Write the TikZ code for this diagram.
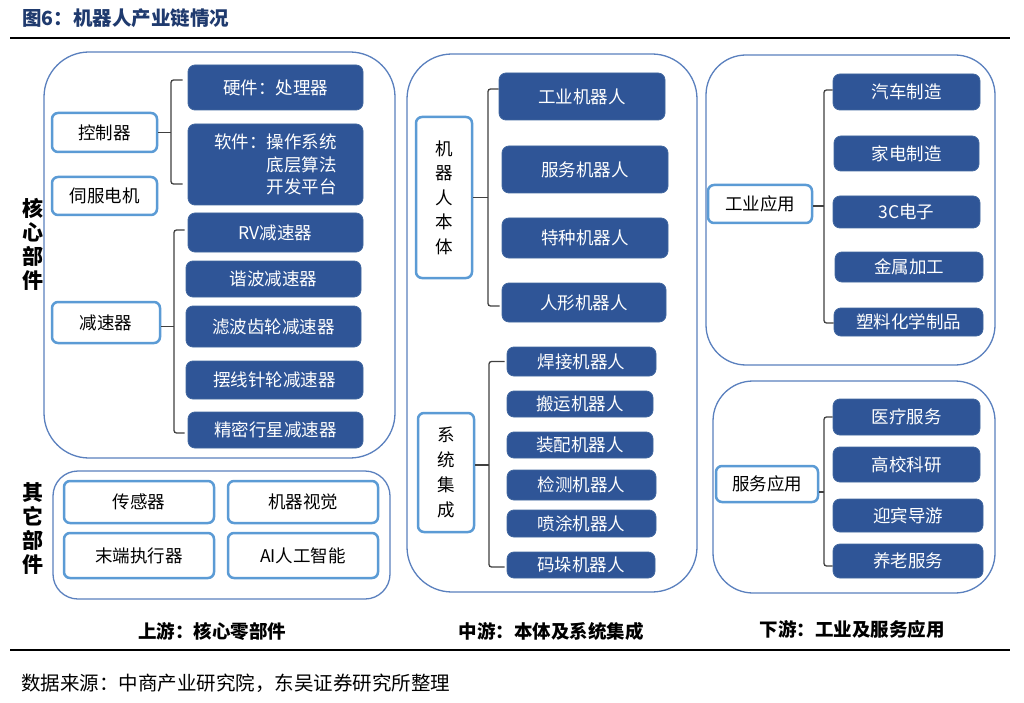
\documentclass[tikz,border=0pt]{standalone}
\usepackage{fontspec}
\setmainfont{Noto Sans CJK SC}
\usetikzlibrary{calc}
\definecolor{bfill}{HTML}{2F5597}
\definecolor{bborder}{HTML}{41679F}
\definecolor{wborder}{HTML}{5B9BD5}
\definecolor{cborder}{HTML}{5A80BE}
\definecolor{brkcol}{HTML}{404040}
\definecolor{titlecol}{HTML}{1F3A6E}
\tikzset{
  container/.style={draw=cborder, line width=1.3pt, rounded corners=#1, inner sep=0pt},
  container/.default=40pt,
  wbox/.style={draw=wborder, line width=2.5pt, fill=white, rounded corners=6pt, inner sep=0pt, text=black, font=\fontsize{17.5}{20}\selectfont},
  bbox/.style={draw=bborder, line width=0.8pt, fill=bfill, rounded corners=7pt, inner sep=0pt, text=white, font=\fontsize{17.5}{20}\selectfont},
  sz/.style 2 args={minimum width=#1pt, minimum height=#2pt},
  brk/.style={draw=brkcol, line width=1.3pt, rounded corners=2.5pt},
  sidelabel/.style={font=\fontsize{21}{24}\selectfont\bfseries, align=center, inner sep=0pt},
  footlabel/.style={font=\fontsize{18.5}{20}\selectfont\bfseries, inner sep=0pt},
}
\begin{document}
\begin{tikzpicture}[x=1pt,y=-1pt]
\useasboundingbox (0,0) rectangle (1024,703);
\fill[white] (0,0) rectangle (1024,703);

% title and rules
\node[anchor=west, inner sep=0pt, text=titlecol, font=\fontsize{19.5}{20}\selectfont\bfseries] (title) at (22,18) {图6：机器人产业链情况};
\coordinate (rl1) at (10,38); \coordinate (rr1) at (1010,38);
\draw[line width=2pt] (rl1) -- (rr1);
\coordinate (rl2) at (10,650); \coordinate (rr2) at (1010,650);
\draw[line width=2pt] (rl2) -- (rr2);
\node[anchor=west, inner sep=0pt, font=\fontsize{19.5}{20}\selectfont] (src) at (21,683) {数据来源：中商产业研究院，东吴证券研究所整理};

% containers
\node[container=45pt, sz={351}{406}] (upL) at (219.5,255) {};
\node[container=25pt, sz={337}{128}] (loL) at (221.5,535) {};
\node[container=45pt, sz={290}{538}] (mid) at (552,323) {};
\node[container=40pt, sz={289}{310}] (rTop) at (850.5,210) {};
\node[container=40pt, sz={282}{212}] (rBot) at (854,487) {};

% side labels
\node[sidelabel] (core) at (33,244) {核\\心\\部\\件};
\node[sidelabel] (other) at (33,529) {其\\它\\部\\件};

% upstream white boxes
\node[wbox, sz={105}{39}] (ctrl) at (104.5,132.5) {控制器};
\node[wbox, sz={105}{38}] (servo) at (104.5,196) {伺服电机};
\node[wbox, sz={108}{41}] (red) at (106,322.5) {减速器};
\node[wbox, sz={150}{42}] (sensor) at (139,502) {传感器};
\node[wbox, sz={150}{42}] (vision) at (303,502) {机器视觉};
\node[wbox, sz={150}{45}] (endeff) at (139,555.5) {末端执行器};
\node[wbox, sz={150}{45}] (ai) at (303,555.5) {AI人工智能};

% upstream blue boxes
\node[bbox, sz={175}{45}] (hw) at (275.5,87.5) {硬件：处理器};
\node[bbox, sz={175}{81}, align=left, font=\fontsize{17.5}{22.5}\selectfont] (sw) at (275.5,164.5) {软件：操作系统\\\phantom{软件：}底层算法\\\phantom{软件：}开发平台};
\node[bbox, sz={175}{39}] (rv) at (275.5,232.5) {RV减速器};
\node[bbox, sz={175}{36}] (harm) at (273.5,279) {谐波减速器};
\node[bbox, sz={175}{41}] (filt) at (273.5,326.5) {滤波齿轮减速器};
\node[bbox, sz={177}{38}] (cyc) at (274.5,380) {摆线针轮减速器};
\node[bbox, sz={175}{36}] (plan) at (275.5,430) {精密行星减速器};

% midstream
\node[wbox, sz={56}{161}, align=center, font=\fontsize{17.5}{24.5}\selectfont] (body) at (444,197.5) {机\\器\\人\\本\\体};
\node[wbox, sz={56}{119}, align=center, font=\fontsize{17.5}{25}\selectfont] (sysint) at (446,472.5) {系\\统\\集\\成};
\node[bbox, sz={166}{47}] (ind) at (582,96.5) {工业机器人};
\node[bbox, sz={166}{47}] (svc) at (585,169.5) {服务机器人};
\node[bbox, sz={166}{40}] (spec) at (585,238) {特种机器人};
\node[bbox, sz={164}{39}] (hum) at (584,302.5) {人形机器人};
\node[bbox, sz={149}{29}] (weld) at (581.5,361.5) {焊接机器人};
\node[bbox, sz={146}{26}] (hand) at (580,404) {搬运机器人};
\node[bbox, sz={146}{26}] (asm) at (580,445) {装配机器人};
\node[bbox, sz={149}{30}] (insp) at (581.5,485) {检测机器人};
\node[bbox, sz={149}{27}] (spray) at (581.5,523.5) {喷涂机器人};
\node[bbox, sz={148}{26}] (pall) at (581,565) {码垛机器人};

% downstream
\node[wbox, sz={104}{38}] (indApp) at (760,204) {工业应用};
\node[wbox, sz={102}{36}] (svcApp) at (767,484) {服务应用};
\node[bbox, sz={147}{36}] (car) at (906.5,92) {汽车制造};
\node[bbox, sz={145}{35}] (home) at (906.5,153.5) {家电制造};
\node[bbox, sz={147}{32}] (c3) at (906.5,212) {3C电子};
\node[bbox, sz={148}{30}] (metal) at (909,267) {金属加工};
\node[bbox, sz={149}{28}] (plast) at (908.5,322) {塑料化学制品};
\node[bbox, sz={147}{36}] (med) at (906.5,417) {医疗服务};
\node[bbox, sz={147}{35}] (uni) at (906.5,464.5) {高校科研};
\node[bbox, sz={150}{33}] (guide) at (908,515.5) {迎宾导游};
\node[bbox, sz={150}{34}] (elder) at (908,561) {养老服务};

% brackets
% controller
\coordinate (b1) at (171,0);
\coordinate (t1a) at ([xshift=-5pt,yshift=7.5pt]hw.west);
\coordinate (t1b) at ([xshift=-5pt,yshift=-19.5pt]sw.west);
\draw[brk] (ctrl.east) -- (ctrl.east -| b1);
\draw[brk] (t1a) -- (t1a -| b1) -- (t1b -| b1) -- (t1b);
% reducer
\coordinate (b2) at (174,0);
\coordinate (t2a) at ([xshift=-3pt,yshift=2.5pt]rv.west);
\coordinate (t2b) at ([xshift=-3pt,yshift=-3pt]plan.west);
\coordinate (s2) at ([yshift=-4pt]red.east);
\draw[brk] (s2) -- (s2 -| b2);
\draw[brk] (t2a) -- (t2a -| b2) -- (t2b -| b2) -- (t2b);
% robot body
\coordinate (b3) at (488,0);
\coordinate (t3a) at ([yshift=7.5pt]ind.west);
\coordinate (t3b) at ([xshift=-2pt,yshift=-3.5pt]hum.west);
\draw[brk] (body.east) -- (body.east -| b3);
\draw[brk] (t3a) -- (t3a -| b3) -- (t3b -| b3) -- (t3b);
% system integration
\coordinate (b4) at (489,0);
\coordinate (t4a) at ([xshift=-2pt]weld.west);
\coordinate (t4b) at ([xshift=-2pt,yshift=-2pt]pall.west);
\coordinate (s4) at ([yshift=7.5pt]sysint.east);
\draw[brk] (s4) -- (s4 -| b4);
\draw[brk] (t4a) -- (t4a -| b4) -- (t4b -| b4) -- (t4b);
% industrial application
\coordinate (b5) at (824,0);
\coordinate (t5a) at ([yshift=2pt]car.west);
\coordinate (t5b) at ([yshift=-1pt]plast.west);
\coordinate (s5) at ([yshift=-2pt]indApp.east);
\draw[brk] (s5) -- (s5 -| b5);
\draw[brk] (t5a) -- (t5a -| b5) -- (t5b -| b5) -- (t5b);
% service application
\coordinate (b6) at (824,0);
\coordinate (t6a) at (med.west);
\coordinate (t6b) at ([yshift=-5pt]elder.west);
\coordinate (s6) at ([yshift=-8pt]svcApp.east);
\draw[brk] (s6) -- (s6 -| b6);
\draw[brk] (t6a) -- (t6a -| b6) -- (t6b -| b6) -- (t6b);

% footer labels
\node[footlabel] (f1) at (212,631) {上游：核心零部件};
\node[footlabel] (f2) at (551,631) {中游：本体及系统集成};
\node[footlabel] (f3) at (852,629) {下游：工业及服务应用};
\end{tikzpicture}
\end{document}
